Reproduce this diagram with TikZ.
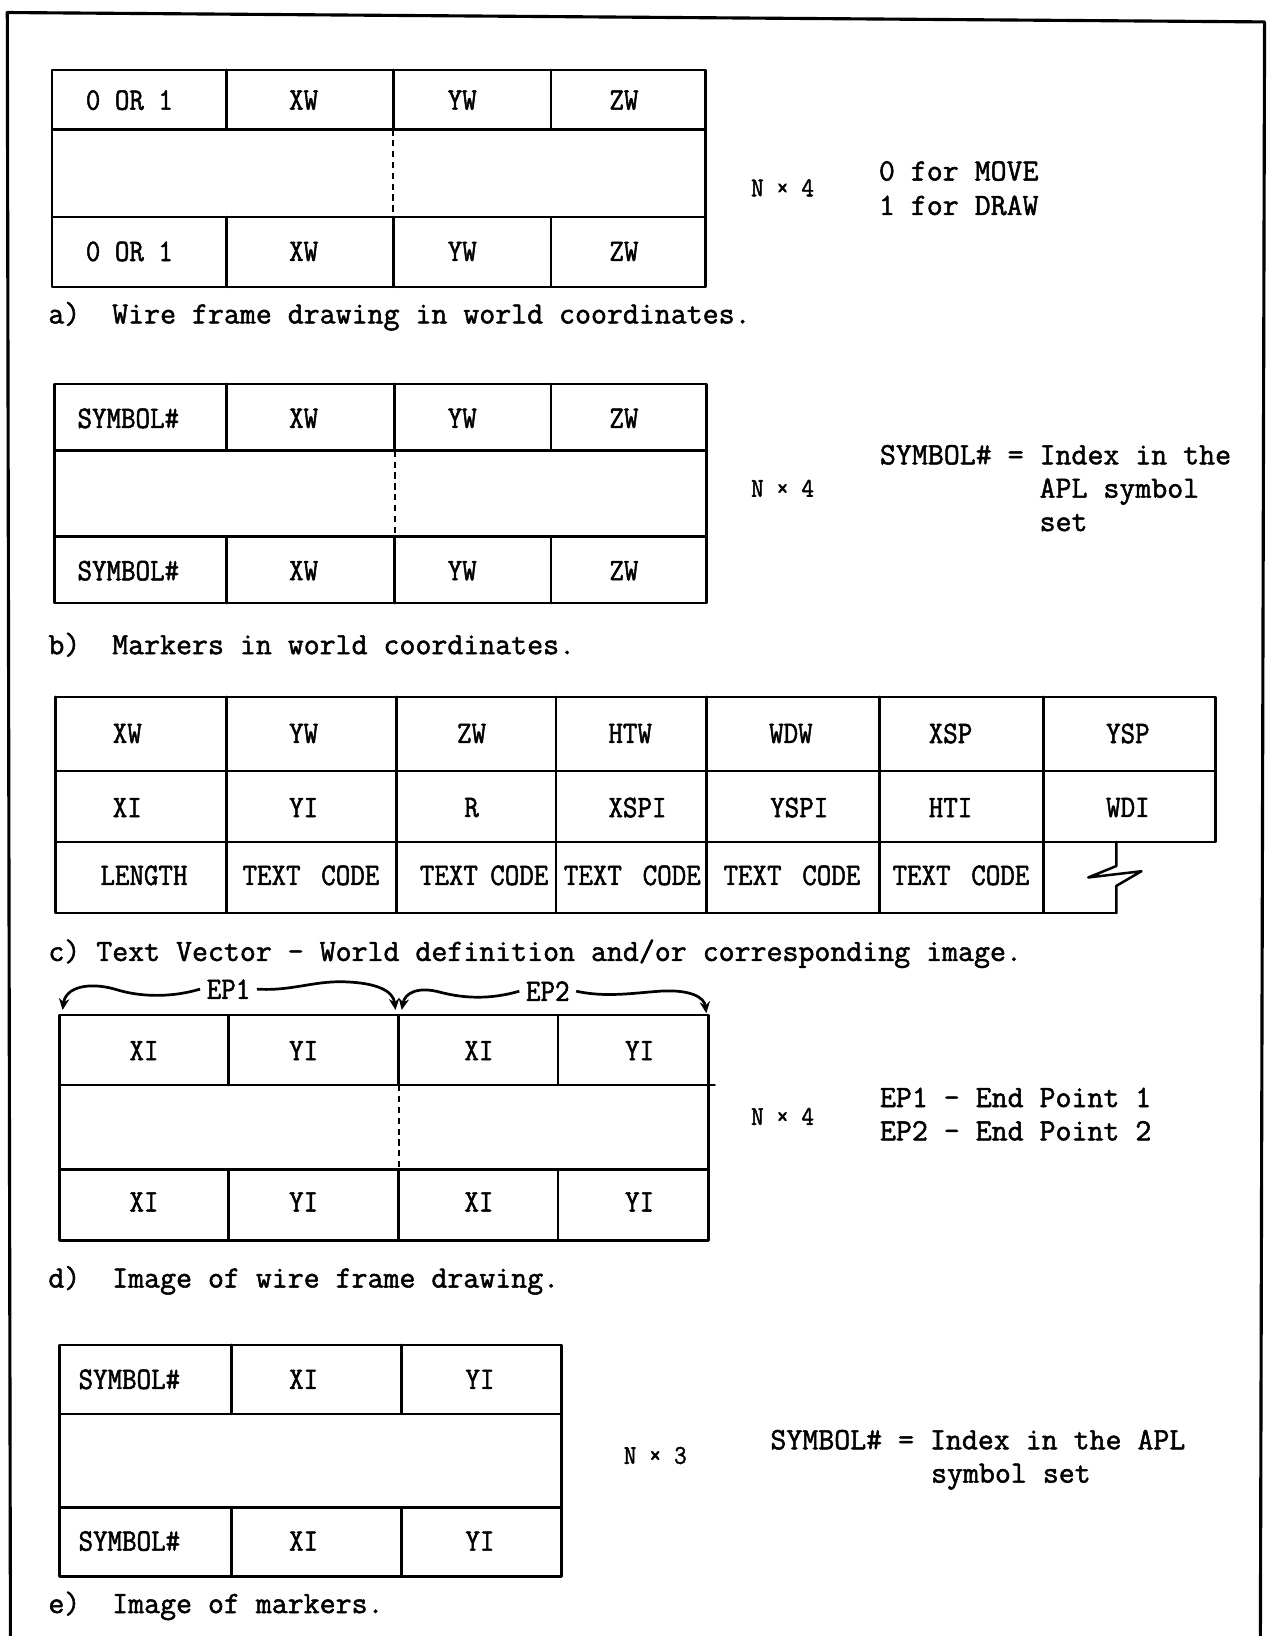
\documentclass[tikz,border=0pt]{standalone}
\usepackage{fontspec}
\setmainfont{Latin Modern Mono}[FakeBold=1.6]
\newfontfamily\cellfont{Latin Modern Mono}[FakeStretch=0.9,FakeBold=1.6]
\usetikzlibrary{arrows.meta}
\begin{document}
\begin{tikzpicture}[x=0.5pt,y=-0.5pt,
  tl/.style={line width=1.2pt, line cap=round, line join=round},
  fr/.style={line width=1.5pt, line cap=round, line join=round},
  dl/.style={line width=1pt, dash pattern=on 3pt off 2.2pt},
  cell/.style={inner sep=0pt, font=\cellfont\fontsize{15}{16}\selectfont},
  txt/.style={inner sep=0pt, anchor=base west, font=\fontsize{14.85}{16}\selectfont},
  nx/.style={inner sep=0pt, font=\cellfont\fontsize{13}{16}\selectfont},
  ep/.style={line width=1.3pt, -{Stealth[length=5.5pt,width=5pt]}}
]
\useasboundingbox (0,0) rectangle (1219,1568);
% frame
\draw[fr] (10,1568) -- (7,12) -- (1212,21) -- (1208,1568);

% ---------------- table a
\draw[tl] (50,67) rectangle (676,275);
\draw[tl] (50,124) -- (676,124) (50,208) -- (676,208);
\foreach \x in {217,377,528} \draw[tl] (\x,67) -- (\x,124) (\x,208) -- (\x,275);
\draw[dl] (377,124) -- (377,208);
\node[cell] (a1) at (124,96) {0 OR 1};
\node[cell] (a2) at (291,96) {XW};
\node[cell] (a3) at (443,96) {YW};
\node[cell] (a4) at (598,96) {ZW};
\node[cell] (a5) at (124,241) {0 OR 1};
\node[cell] (a6) at (291,241) {XW};
\node[cell] (a7) at (443,241) {YW};
\node[cell] (a8) at (598,241) {ZW};
\node[nx] (an) at (750,180) {N × 4};
\node[txt] (at1) at (842,173) {0 for MOVE};
\node[txt] (at2) at (842,206) {1 for DRAW};
\node[txt] (acap) at (46,310) {a)~~Wire frame drawing in world coordinates.};

% ---------------- table b
\draw[tl] (52,368) rectangle (677,578);
\draw[tl] (52,432) -- (677,432) (52,514) -- (677,514);
\foreach \x in {217,378,528} \draw[tl] (\x,368) -- (\x,432) (\x,514) -- (\x,578);
\draw[dl] (379,432) -- (379,514);
\node[cell] (b1) at (123,401) {SYMBOL\#};
\node[cell] (b2) at (291,401) {XW};
\node[cell] (b3) at (443,401) {YW};
\node[cell] (b4) at (598,401) {ZW};
\node[cell] (b5) at (123,547) {SYMBOL\#};
\node[cell] (b6) at (291,547) {XW};
\node[cell] (b7) at (443,547) {YW};
\node[cell] (b8) at (598,547) {ZW};
\node[nx] (bn) at (750,468) {N × 4};
\node[txt] (bt1) at (843,445) {SYMBOL\# = Index in the};
\node[txt] (bt2) at (996,477) {APL symbol};
\node[txt] (bt3) at (996,509) {set};
\node[txt] (bcap) at (46,627) {b)~~Markers in world coordinates.};

% ---------------- table c
\draw[tl] (53,668) -- (1165,668) -- (1165,807) -- (53,807);
\draw[tl] (53,739) -- (1165,739);
\draw[tl] (53,668) -- (53,875) -- (1070,875);
\foreach \x in {217,380,533,677,843,1000} \draw[tl] (\x,668) -- (\x,875);
\draw[tl] (1070,807) -- (1070,830) -- (1043,841) -- (1094,835) -- (1070,849) -- (1070,875);
\node[cell] (c11) at (122,703) {XW};
\node[cell] (c12) at (291,703) {YW};
\node[cell] (c13) at (452,703) {ZW};
\node[cell] (c14) at (604,703) {HTW};
\node[cell] (c15) at (758,703) {WDW};
\node[cell] (c16) at (911,703) {XSP};
\node[cell] (c17) at (1081,703) {YSP};
\node[cell] (c21) at (122,774) {XI};
\node[cell] (c22) at (291,774) {YI};
\node[cell] (c23) at (452,774) {R};
\node[cell] (c24) at (611,774) {XSPI};
\node[cell] (c25) at (766,774) {YSPI};
\node[cell] (c26) at (911,774) {HTI};
\node[cell] (c27) at (1081,774) {WDI};
\node[cell] (c31) at (138,839) {LENGTH};
\node[cell] (c32) at (298,839) {TEXT~\kern3pt CODE};
\node[cell] (c33) at (464,839) {TEXT\kern-1pt~CODE};
\node[cell] (c34) at (606,839) {TEXT~\kern3pt CODE};
\node[cell] (c35) at (759,839) {TEXT~\kern3pt CODE};
\node[cell] (c36) at (921,839) {TEXT~\kern3pt CODE};
\node[txt] (ccap) at (46,921) {c) Text Vector - World definition and/or corresponding image.};

% ---------------- table d
\draw[tl] (57,973) rectangle (679,1189);
\draw[tl] (57,1040) -- (685,1040) (57,1121) -- (679,1121);
\foreach \x in {219,382,535} \draw[tl] (\x,973) -- (\x,1040) (\x,1121) -- (\x,1189);
\draw[dl] (382,1040) -- (382,1121);
\node[cell] (d1) at (138,1007) {XI};
\node[cell] (d2) at (291,1007) {YI};
\node[cell] (d3) at (459,1007) {XI};
\node[cell] (d4) at (613,1007) {YI};
\node[cell] (d5) at (138,1152) {XI};
\node[cell] (d6) at (291,1152) {YI};
\node[cell] (d7) at (459,1152) {XI};
\node[cell] (d8) at (613,1152) {YI};
\node[cell] (ep1) at (219,948) {EP1};
\node[cell] (ep2) at (525,950) {EP2};
\coordinate (e1a) at (60,968);
\coordinate (e1b) at (379,968);
\coordinate (e2a) at (385,968);
\coordinate (e2b) at (677,971);
\draw[ep] ([xshift=-3pt]ep1.west) .. controls (165,956) and (135,956) .. (110,948)
   .. controls (85,941) and (63,946) .. (e1a);
\draw[ep] ([xshift=3pt]ep1.east) .. controls (280,950) and (300,940) .. (330,941)
   .. controls (362,942) and (377,950) .. (e1b);
\draw[ep] ([xshift=-3pt]ep2.west) .. controls (470,958) and (445,957) .. (422,951)
   .. controls (400,945) and (388,952) .. (e2a);
\draw[ep] ([xshift=3pt]ep2.east) .. controls (580,956) and (605,952) .. (632,950)
   .. controls (662,948) and (675,956) .. (e2b);
\node[nx] (dn) at (750,1070) {N × 4};
\node[txt] (dt1) at (843,1061) {EP1 - End Point 1};
\node[txt] (dt2) at (843,1093) {EP2 - End Point 2};
\node[txt] (dcap) at (46,1234) {d)~~Image of wire frame drawing.};

% ---------------- table e
\draw[tl] (57,1289) rectangle (538,1511);
\draw[tl] (57,1355) -- (538,1355) (57,1445) -- (538,1445);
\foreach \x in {222,385} \draw[tl] (\x,1289) -- (\x,1355) (\x,1445) -- (\x,1511);
\node[cell] (e1) at (124,1322) {SYMBOL\#};
\node[cell] (e2) at (291,1322) {XI};
\node[cell] (e3) at (460,1322) {YI};
\node[cell] (e4) at (124,1477) {SYMBOL\#};
\node[cell] (e5) at (291,1477) {XI};
\node[cell] (e6) at (460,1477) {YI};
\node[nx] (en) at (628,1395) {N × 3};
\node[txt] (et1) at (738,1389) {SYMBOL\# = Index in the APL};
\node[txt] (et2) at (892,1421) {symbol set};
\node[txt] (ecap) at (46,1546) {e)~~Image of markers.};
\end{tikzpicture}
\end{document}
